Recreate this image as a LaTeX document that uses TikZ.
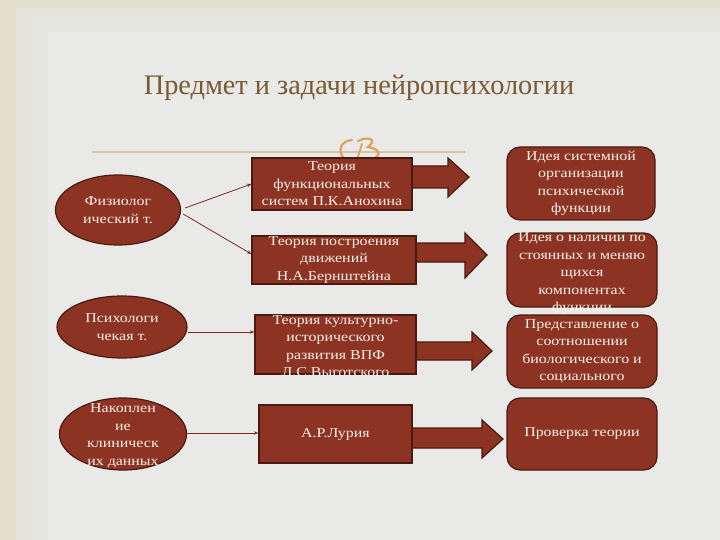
\documentclass[tikz,border=0pt]{standalone}
\usepackage{fontspec}
\setmainfont{Liberation Serif}
\newfontfamily\boxfont[FakeStretch=1.18]{Liberation Serif}
\usetikzlibrary{shapes.geometric,arrows.meta,calc}
\definecolor{bgmain}{HTML}{E9E9E7}
\definecolor{bgA}{HTML}{E3E0CE}
\definecolor{bgB}{HTML}{E6E4DA}
\definecolor{bgC}{HTML}{E5E6E0}
\definecolor{boxred}{HTML}{8C3324}
\definecolor{boxdark}{HTML}{4A1A10}
\definecolor{txtcol}{HTML}{F8F1E6}
\definecolor{titlecol}{HTML}{7A5A32}
\definecolor{linecol}{HTML}{D5C5A5}
\definecolor{ornament}{HTML}{DDA25A}
\definecolor{conn}{HTML}{7A2A1E}
\tikzset{
  shapebox/.style={rectangle,fill=boxred,draw=boxdark,line width=1.2pt,inner sep=0pt},
  roundbox/.style={shapebox,rounded corners=13pt},
  ellbox/.style={ellipse,fill=boxred,draw=boxdark,line width=1.2pt,inner sep=0pt},
  txt/.style={text=txtcol,align=center,inner sep=0pt,font=\boxfont\fontsize{13.5}{17.5}\selectfont},
  conline/.style={draw=conn,line width=0.8pt,-{Stealth[length=4.5pt,width=3.5pt]}},
  blockarrow/.style={fill=boxred,draw=boxdark,line width=1.2pt,line join=miter}
}
\begin{document}
\begin{tikzpicture}[x=1pt,y=-1pt]
\useasboundingbox (0,0) rectangle (720,540);
% background
\fill[bgA] (0,0) rectangle (720,540);
\fill[bgB] (16,8) rectangle (720,540);
\fill[bgC] (32,16) rectangle (720,540);
\fill[bgmain] (48,32) rectangle (720,540);

% title
\node[text=titlecol,font=\fontsize{28.3}{34}\selectfont,inner sep=0pt] (title) at (359,88) {Предмет и задачи нейропсихологии};

% rule and ornament
\draw[linecol,line width=1.3pt] (92,152) -- (465,152);
\draw[ornament,line width=2.2pt,line cap=round] (352,140) .. controls (341,141) and (337,150) .. (344,159);
\draw[ornament,line width=2.2pt,line cap=round] (358,141) .. controls (368,136) and (378,139) .. (368,147)
   .. controls (382,149) and (382,158) .. (368,160);
\draw[ornament,line width=1.8pt,line cap=round] (362,144) -- (357,160);

% block arrows
\draw[blockarrow] (412,166) -- (448,166) -- (448,158) -- (469,177) -- (448,197) -- (448,188) -- (412,188) -- cycle;
\draw[blockarrow] (416,243) -- (465,243) -- (465,233) -- (487,255) -- (465,278) -- (465,262) -- (416,262) -- cycle;
\draw[blockarrow] (416,342) -- (472,342) -- (472,332) -- (492,351) -- (472,370) -- (472,360) -- (416,360) -- cycle;
\draw[blockarrow] (412,428) -- (482,428) -- (482,420) -- (503,439) -- (482,458) -- (482,448) -- (412,448) -- cycle;

% ellipses
\node[ellbox,minimum width=125pt,minimum height=70pt] (E1) at (118,210) {};
\node[ellbox,minimum width=130pt,minimum height=62pt] (E2) at (122,327) {};
\node[ellbox,minimum width=127pt,minimum height=72pt] (E3) at (123,434) {};
\node[txt] (E1t) at (E1) {Физиолог\\ический т.};
\node[txt] (E2t) at (E2) {Психологи\\чекая т.};
\node[txt] (E3t) at ($(E3)+(0,2)$) {Накоплен\\ие\\клиническ\\их данных};

% middle boxes
\node[shapebox,minimum width=160pt,minimum height=52pt] (A) at (332,184) {};
\node[shapebox,minimum width=164pt,minimum height=48pt] (B) at (334,260) {};
\node[shapebox,minimum width=161pt,minimum height=59pt] (C) at (335.5,344.5) {};
\node[shapebox,minimum width=153pt,minimum height=58pt] (D) at (335.5,434) {};
\node[txt] (At) at (A) {Теория\\функциональных\\систем П.К.Анохина};
\node[txt] (Bt) at (B) {Теория построения\\движений\\Н.А.Бернштейна};
\node[txt] (Ct) at ($(C)+(0,1.5)$) {Теория культурно-\\исторического\\развития ВПФ\\Л.С.Выготского};
\node[txt] (Dt) at (D) {А.Р.Лурия};

% right boxes
\node[roundbox,minimum width=148pt,minimum height=73pt] (R1) at (581,183.5) {};
\node[roundbox,minimum width=150pt,minimum height=74pt] (R2) at (582,270) {};
\node[roundbox,minimum width=150pt,minimum height=73pt] (R3) at (582,351.5) {};
\node[roundbox,minimum width=150pt,minimum height=72pt] (R4) at (582,434) {};
\node[txt] (R1t) at (R1) {Идея системной\\организации\\психической\\функции};
\node[txt] (R2t) at ($(R2)+(0,4)$) {Идея о наличии по\\стоянных и меняю\\щихся\\компонентах\\функции};
\node[txt] (R3t) at (R3) {Представление о\\соотношении\\биологического и\\социального};
\node[txt] (R4t) at (R4) {Проверка теории};

% connectors
\coordinate (s1) at ($(E1.east)+(4,-2)$);
\coordinate (s2) at ($(E1.east)+(2,4)$);
\coordinate (s3) at ($(E2.east)+(0,5)$);
\coordinate (s4) at ($(E3.east)+(0,-1)$);
\draw[conline] (s1) -- (A.west);
\draw[conline] (s2) -- ($(B.west)+(0,-6)$);
\draw[conline] (s3) -- (s3 -| C.west);
\draw[conline] (s4) -- (s4 -| D.west);
\end{tikzpicture}
\end{document}
